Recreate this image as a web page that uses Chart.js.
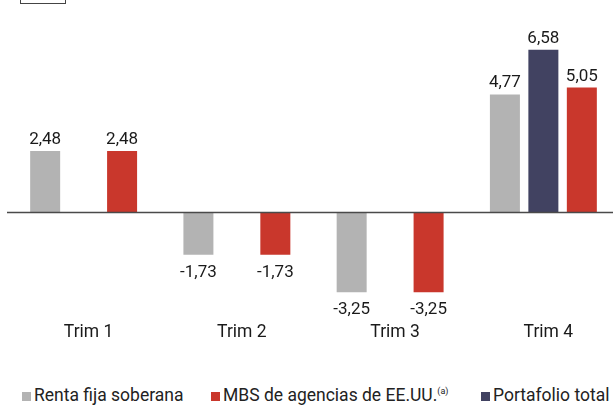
<!DOCTYPE html>
<html><head><meta charset="utf-8">
<script src="https://cdn.jsdelivr.net/npm/chart.js@4"></script>
<style>
html,body{margin:0;padding:0;background:#fff;width:613px;height:406px;overflow:hidden;font-family:Roboto,"DejaVu Sans",sans-serif;}
#wrap{position:absolute;left:0;top:0;width:620px;height:353px;}
#box{position:absolute;left:20px;top:-20px;width:44px;height:22px;border:1px solid #444;}
#legend{position:absolute;left:0;top:384px;width:613px;height:22px;font-size:17.5px;color:#222;white-space:nowrap;}
.it{position:absolute;top:0;line-height:22px;}
.sq{display:inline-block;width:9px;height:9px;margin-right:3px;vertical-align:0px;}
sup{font-size:9px;vertical-align:7px;line-height:0;}
</style></head>
<body>
<div id="box"></div>
<div id="wrap"><canvas id="c" width="620" height="353"></canvas></div>
<div id="legend">
 <span class="it" style="left:22px"><span class="sq" style="background:#b3b3b3"></span>Renta fija soberana</span>
 <span class="it" style="left:211px"><span class="sq" style="background:#c9372c"></span>MBS de agencias de EE.UU.<sup>(a)</sup></span>
 <span class="it" style="left:481px"><span class="sq" style="background:#414261"></span>Portafolio total</span>
</div>
<script>
const categories = ["Trim 1","Trim 2","Trim 3","Trim 4"];
const rentaFija = [2.48, -1.73, -3.25, 4.77];
const portafolio = [null, null, null, 6.58];
const mbs = [2.48, -1.73, -3.25, 5.05];

const fmt = v => v.toFixed(2).replace('.', ',');

const zeroLine = {
  id:'zeroLine',
  afterDatasetsDraw(chart){
    const {ctx, scales:{y}} = chart;
    const py = Math.round(y.getPixelForValue(0)) + 0.5;
    ctx.save();
    ctx.strokeStyle = '#4a4a4a';
    ctx.lineWidth = 1.5;
    ctx.beginPath();
    ctx.moveTo(7, py);
    ctx.lineTo(chart.width, py);
    ctx.stroke();
    ctx.restore();
  }
};
const valueLabels = {
  id:'valueLabels',
  afterDatasetsDraw(chart){
    const {ctx} = chart;
    ctx.save();
    ctx.font = '17px Roboto, "DejaVu Sans", sans-serif';
    ctx.fillStyle = '#1a1a1a';
    ctx.textAlign = 'center';
    ctx.textBaseline = 'alphabetic';
    chart.data.datasets.forEach((ds, i) => {
      const meta = chart.getDatasetMeta(i);
      meta.data.forEach((bar, j) => {
        const v = ds.data[j];
        if (v === null || v === undefined) return;
        if (v >= 0) ctx.fillText(fmt(v), bar.x, bar.y - 7);
        else ctx.fillText(fmt(v), bar.x, bar.y + 22);
      });
    });
    ctx.restore();
  }
};

new Chart(document.getElementById('c'), {
  type:'bar',
  data:{
    labels: categories,
    datasets:[
      {label:'Renta fija soberana', data: rentaFija, backgroundColor:'#b3b3b3'},
      {label:'Portafolio total', data: portafolio, backgroundColor:'#414261'},
      {label:'MBS de agencias de EE.UU.', data: mbs, backgroundColor:'#c9372c'}
    ]
  },
  options:{
    responsive:false,
    animation:false,
    devicePixelRatio:1,
    layout:{padding:{left:7,right:0,top:0,bottom:0}},
    categoryPercentage:0.753,
    barPercentage:0.78,
    plugins:{legend:{display:false}, tooltip:{enabled:false}},
    scales:{
      x:{
        grid:{display:false, drawTicks:false},
        border:{display:false},
        ticks:{color:'#1a1a1a', font:{size:17.5, family:'Roboto'}, padding:10, labelOffset:5, maxRotation:0}
      },
      y:{
        display:false,
        min:-4.05, max:8.6
      }
    }
  },
  plugins:[zeroLine, valueLabels]
});
</script>
</body></html>
